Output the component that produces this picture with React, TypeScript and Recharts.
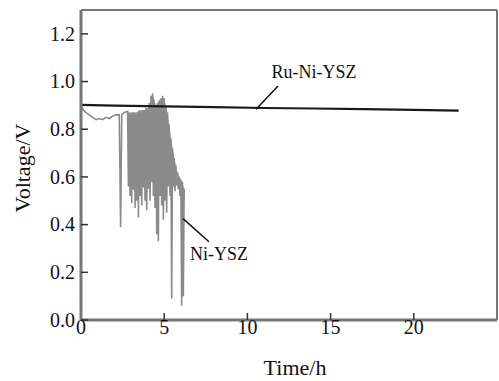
import {
  ComposedChart,
  Line,
  Area,
  XAxis,
  YAxis,
  ReferenceLine,
  ReferenceDot,
} from "recharts"

// Ni-YSZ anode: time (h) and cell voltage (V)
const niTime = [
  0, 0.15, 0.3, 0.5, 0.7, 0.9, 1.1, 1.3, 1.5, 1.7, 1.9, 2.1, 2.3, 2.38, 2.45,
  2.6, 2.8, 2.85, 2.9, 2.95, 3.0, 3.05, 3.1, 3.15, 3.2, 3.25, 3.3, 3.35, 3.4,
  3.45, 3.5, 3.55, 3.6, 3.65, 3.7, 3.75, 3.8, 3.85, 3.9, 3.95, 4.0, 4.05, 4.1,
  4.15, 4.2, 4.25, 4.3, 4.35, 4.4, 4.45, 4.5, 4.55, 4.6, 4.65, 4.7, 4.75, 4.8,
  4.85, 4.9, 4.95, 5.0, 5.05, 5.1, 5.15, 5.2, 5.25, 5.3, 5.35, 5.4, 5.45, 5.5,
  5.55, 5.6, 5.65, 5.7, 5.75, 5.8, 5.85, 5.9, 5.95, 6.0, 6.05, 6.1, 6.15,
  6.2,
]
const niVoltage = [
  0.9, 0.88, 0.87, 0.86, 0.85, 0.84, 0.845, 0.84, 0.85, 0.845, 0.855, 0.86,
  0.86, 0.39, 0.86, 0.87, 0.875, 0.56, 0.87, 0.52, 0.86, 0.49, 0.87, 0.55,
  0.87, 0.47, 0.86, 0.5, 0.87, 0.43, 0.88, 0.52, 0.87, 0.48, 0.88, 0.56, 0.88,
  0.5, 0.89, 0.46, 0.88, 0.55, 0.91, 0.5, 0.94, 0.58, 0.95, 0.52, 0.92, 0.47,
  0.9, 0.36, 0.91, 0.33, 0.92, 0.52, 0.93, 0.48, 0.94, 0.42, 0.93, 0.5, 0.9,
  0.45, 0.87, 0.56, 0.82, 0.52, 0.76, 0.09, 0.72, 0.56, 0.68, 0.54, 0.65,
  0.57, 0.62, 0.55, 0.6, 0.52, 0.59, 0.06, 0.58, 0.1, 0.55,
]

// dense oscillation band of the Ni-YSZ trace (low / high envelope)
const bandTime = [2.85, 3.0, 3.3, 3.6, 3.9, 4.1, 4.3, 4.5, 4.8, 5.0, 5.2, 5.4, 5.6, 5.8, 6.0, 6.2]
const bandLow = [0.62, 0.56, 0.53, 0.56, 0.55, 0.58, 0.58, 0.52, 0.56, 0.55, 0.58, 0.58, 0.57, 0.56, 0.52, 0.5]
const bandHigh = [0.87, 0.87, 0.87, 0.88, 0.88, 0.9, 0.95, 0.9, 0.93, 0.93, 0.87, 0.77, 0.68, 0.62, 0.59, 0.55]

// Ru-Ni-YSZ anode
const ruTime = [0, 2, 5, 8, 11, 14, 17, 20, 22.7]
const ruVoltage = [0.902, 0.899, 0.896, 0.893, 0.889, 0.887, 0.884, 0.881, 0.878]

const xTicks = [0, 5, 10, 15, 20]
const yTicks = [0, 0.2, 0.4, 0.6, 0.8, 1.0, 1.2]

const font = "'Liberation Serif', 'Times New Roman', serif"
const axisGrey = "#777777"

function XTick(props: any) {
  const { x, y, payload } = props
  return (
    <text
      x={x}
      y={y}
      dy="0.68em"
      textAnchor="middle"
      fill="#111"
      fontSize={20}
      fontFamily={font}
    >
      {payload.value}
    </text>
  )
}

function YTick(props: any) {
  const { x, y, payload } = props
  return (
    <text
      x={x}
      y={y}
      dy="0.34em"
      textAnchor="end"
      fill="#111"
      fontSize={20}
      fontFamily={font}
    >
      {Number(payload.value).toFixed(1)}
    </text>
  )
}

export default function App() {
  const niData = niTime.map((t, i) => ({ t, v: niVoltage[i] }))
  const bandData = bandTime.map((t, i) => ({ t, band: [bandLow[i], bandHigh[i]] }))
  const ruData = ruTime.map((t, i) => ({ t, v: ruVoltage[i] }))

  return (
    <div
      style={{
        position: "absolute",
        left: 0,
        top: 0,
        width: 499,
        height: 381,
        background: "#ffffff",
        fontFamily: font,
      }}
    >
      <ComposedChart
        width={499}
        height={381}
        margin={{ top: 10, right: 2, bottom: 0, left: 0 }}
      >
        <XAxis
          type="number"
          dataKey="t"
          domain={[0, 25]}
          ticks={xTicks}
          allowDuplicatedCategory={false}
          height={61}
          tickSize={-7}
          tickMargin={7}
          axisLine={{ stroke: axisGrey, strokeWidth: 3 }}
          tickLine={{ stroke: "#333", strokeWidth: 1.5 }}
          tick={<XTick />}
          label={{
            value: "Time/h",
            position: "insideBottom",
            offset: 6,
            dx: 6,
            style: { fill: "#111", fontSize: 22, fontFamily: font },
          }}
        />
        <YAxis
          type="number"
          domain={[0, 1.3]}
          ticks={yTicks}
          width={81}
          tickSize={-7}
          tickMargin={13}
          axisLine={{ stroke: axisGrey, strokeWidth: 3 }}
          tickLine={{ stroke: "#333", strokeWidth: 1.5 }}
          tick={<YTick />}
          label={{
            value: "Voltage/V",
            angle: -90,
            position: "insideLeft",
            offset: 22,
            dy: 3,
            style: {
              fill: "#111",
              fontSize: 22,
              fontFamily: font,
              textAnchor: "middle",
            },
          }}
        />
        <ReferenceLine y={1.3} stroke={axisGrey} strokeWidth={2} />
        <ReferenceLine x={25} stroke={axisGrey} strokeWidth={2} />
        <Area
          data={bandData}
          dataKey="band"
          type="linear"
          stroke="none"
          fill="#8c8c8c"
          fillOpacity={0.9}
          isAnimationActive={false}
        />
        <Line
          data={niData}
          dataKey="v"
          type="linear"
          stroke="#8a8a8a"
          strokeWidth={1.6}
          dot={false}
          isAnimationActive={false}
        />
        <Line
          data={ruData}
          dataKey="v"
          type="linear"
          stroke="#1a1a1a"
          strokeWidth={2.2}
          dot={false}
          isAnimationActive={false}
        />
        <ReferenceLine
          segment={[
            { x: 10.52, y: 0.884 },
            { x: 11.84, y: 0.981 },
          ]}
          stroke="#111"
          strokeWidth={1.5}
        />
        <ReferenceLine
          segment={[
            { x: 6.13, y: 0.425 },
            { x: 7.69, y: 0.328 },
          ]}
          stroke="#111"
          strokeWidth={1.5}
        />
        <ReferenceDot
          x={14.0}
          y={1.04}
          r={0}
          fill="none"
          stroke="none"
          label={{
            value: "Ru-Ni-YSZ",
            position: "center",
            style: { fill: "#111", fontSize: 18, fontFamily: font },
          }}
        />
        <ReferenceDot
          x={8.29}
          y={0.278}
          r={0}
          fill="none"
          stroke="none"
          label={{
            value: "Ni-YSZ",
            position: "center",
            style: { fill: "#111", fontSize: 18, fontFamily: font },
          }}
        />
      </ComposedChart>
    </div>
  )
}
